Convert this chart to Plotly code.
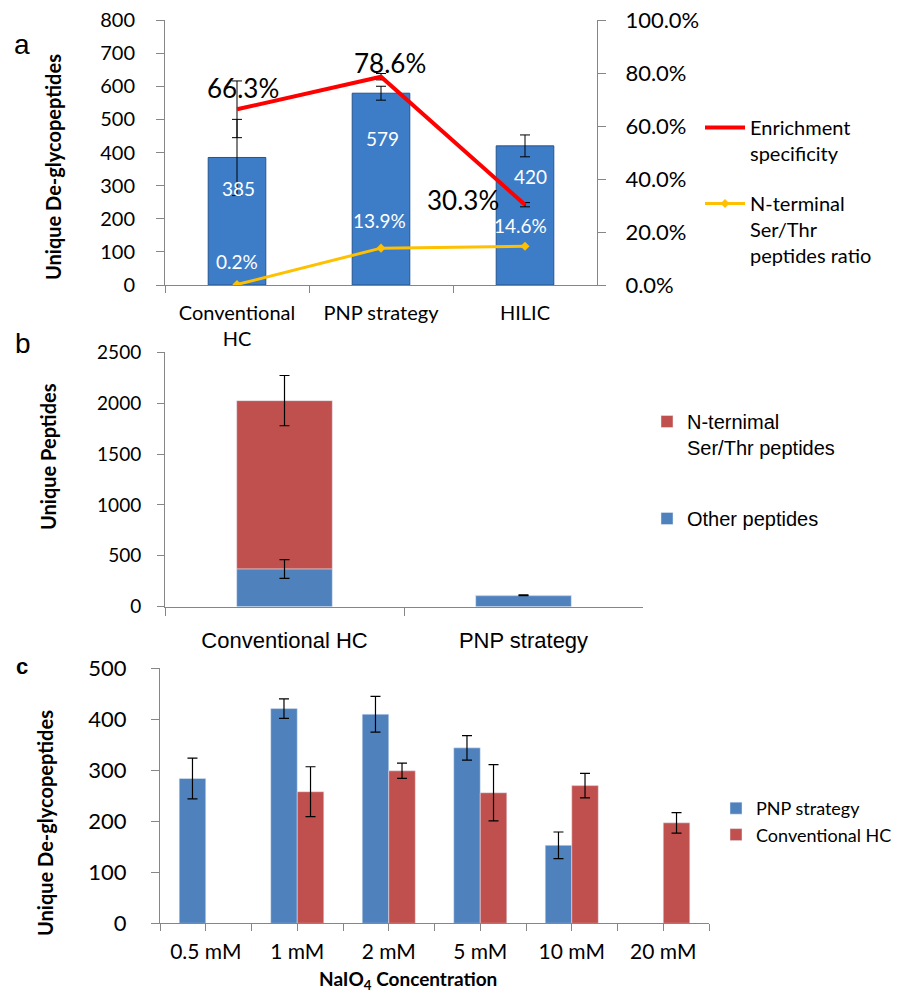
import plotly.graph_objects as go

# ---------------- data ----------------
# Panel a
methods_a = ["Conventional<br>HC", "PNP strategy", "HILIC"]
deglyco_a = [385, 579, 420]
deglyco_a_err = [115, 21, 33]
enrich_a = [0.663, 0.786, 0.303]
enrich_a_err = [0.107, 0.012, 0.008]
nterm_ratio_a = [0.002, 0.139, 0.146]

# Panel b
methods_b = ["Conventional HC", "PNP strategy"]
other_b = [370, 108]
other_b_err = [92, 0]
nterm_b = [1655, 4]
total_b_err = [247, 5]

# Panel c
conc_c = ["0.5 mM", "1 mM", "2 mM", "5 mM", "10 mM", "20 mM"]
pnp_c = [284, 421, 410, 344, 153, None]
pnp_c_err = [40, 19, 35, 24, 26, 0]
hc_c = [None, 258, 299, 256, 270, 197]
hc_c_err = [0, 49, 15, 55, 24, 20]

# ---------------- layout helpers ----------------
W, H = 907, 993
def fx(p):
    return p / W
def fy(p):
    return 1 - p / H

CAL = "Lato, 'Open Sans', sans-serif"
ARI = "'Liberation Sans', Arial, sans-serif"
AX = "#868686"
BLUE = "#4F81BD"
RED = "#C0504D"

fig = go.Figure()

# ---- panel a ----
fig.add_trace(go.Bar(
    x=methods_a, y=deglyco_a, width=0.4,
    marker=dict(color="#3D7CC6", line=dict(color="#24548F", width=1)),
    error_y=dict(type="data", array=deglyco_a_err, color="black", thickness=1, width=5),
    xaxis="x", yaxis="y", showlegend=False, hoverinfo="y"))
fig.add_trace(go.Scatter(
    x=methods_a, y=enrich_a, mode="lines", name="Enrichment<br>specificity",
    line=dict(color="#FF0000", width=4),
    error_y=dict(type="data", array=enrich_a_err, color="black", thickness=1, width=5),
    xaxis="x", yaxis="y2", legend="legend"))
fig.add_trace(go.Scatter(
    x=methods_a, y=nterm_ratio_a, mode="lines+markers",
    name="N-terminal<br>Ser/Thr<br>peptides ratio",
    line=dict(color="#FFC000", width=3),
    marker=dict(symbol="diamond", size=7, color="#FFC000"),
    xaxis="x", yaxis="y2", legend="legend2"))

# ---- panel b ----
fig.add_trace(go.Bar(
    x=methods_b, y=nterm_b, base=other_b, width=0.4, offsetgroup="b",
    name="N-ternimal<br>Ser/Thr peptides",
    marker=dict(color=RED),
    error_y=dict(type="data", array=total_b_err, color="black", thickness=1.2, width=5),
    xaxis="x2", yaxis="y3", legend="legend3"))
fig.add_trace(go.Bar(
    x=methods_b, y=other_b, width=0.4, offsetgroup="b", name="Other peptides",
    marker=dict(color=BLUE),
    error_y=dict(type="data", array=other_b_err, color="black", thickness=1.2, width=5),
    xaxis="x2", yaxis="y3", legend="legend4"))

# ---- panel c ----
xc = list(range(len(conc_c)))
fig.add_trace(go.Bar(
    x=xc, y=pnp_c, name="PNP strategy", marker=dict(color=BLUE),
    error_y=dict(type="data", array=pnp_c_err, color="black", thickness=1.2, width=5),
    xaxis="x3", yaxis="y4", legend="legend5"))
fig.add_trace(go.Bar(
    x=xc, y=hc_c, name="Conventional HC", marker=dict(color=RED),
    error_y=dict(type="data", array=hc_c_err, color="black", thickness=1.2, width=5),
    xaxis="x3", yaxis="y4", legend="legend5"))

axis_common = dict(showline=True, linecolor=AX, linewidth=1, ticks="outside",
                   tickcolor=AX, showgrid=False, zeroline=False, automargin=False)

fig.update_layout(
    width=W, height=H, margin=dict(l=0, r=0, t=0, b=0, autoexpand=False),
    paper_bgcolor="white", plot_bgcolor="rgba(0,0,0,0)",
    barmode="group", bargap=0.42, bargroupgap=0,
    font=dict(family=CAL, color="black"),
    # panel a
    xaxis=dict(domain=[fx(165), fx(597)], anchor="y", type="category",
               tickson="boundaries", ticklen=7, range=[-0.5, 2.5],
               tickfont=dict(size=20, family=CAL), ticklabelstandoff=10, **axis_common),
    yaxis=dict(domain=[fy(285), fy(20)], anchor="x", range=[0, 800], dtick=100,
               ticklen=8, tickfont=dict(size=20, family=CAL), ticklabelstandoff=17,
               **axis_common),
    yaxis2=dict(overlaying="y", anchor="x", side="right", range=[0, 1], dtick=0.2,
                tickformat=".1%", ticklen=8, tickfont=dict(size=22, family=CAL),
                ticklabelstandoff=15, **axis_common),
    # panel b
    xaxis2=dict(domain=[fx(165), fx(643)], anchor="y3", type="category",
                tickson="boundaries", ticklen=8, range=[-0.5, 1.5],
                tickfont=dict(size=22, family=ARI), ticklabelstandoff=14, **axis_common),
    yaxis3=dict(domain=[fy(606.7), fy(352.3)], anchor="x2", range=[0, 2500], dtick=500,
                ticklen=7, tickfont=dict(size=19, family=CAL), ticklabelstandoff=12,
                **axis_common),
    # panel c
    xaxis3=dict(domain=[fx(160), fx(709)], anchor="y4", range=[-0.5, 5.5],
                tickmode="array", tickvals=xc, ticktext=conc_c, ticklen=7,
                minor=dict(tickmode="array", tickvals=[i - 0.5 for i in range(len(conc_c) + 1)],
                           ticks="outside", ticklen=7, tickcolor=AX),
                tickfont=dict(size=21, family=CAL), ticklabelstandoff=2, **axis_common),
    yaxis4=dict(domain=[fy(923.3), fy(668.3)], anchor="x3", range=[0, 500], dtick=100,
                ticklen=8, tickfont=dict(size=22, family=CAL), ticklabelstandoff=20,
                **axis_common),
    legend=dict(x=fx(700), y=fy(108), xanchor="left", yanchor="top", valign="top",
                font=dict(size=20, family=CAL), itemwidth=40, bgcolor="rgba(0,0,0,0)"),
    legend2=dict(x=fx(700), y=fy(184), xanchor="left", yanchor="top", valign="top",
                 font=dict(size=20, family=CAL), itemwidth=40, bgcolor="rgba(0,0,0,0)"),
    legend3=dict(x=fx(647), y=fy(402), xanchor="left", yanchor="top", valign="top",
                 font=dict(size=20, family=ARI), itemwidth=30, bgcolor="rgba(0,0,0,0)"),
    legend4=dict(x=fx(647), y=fy(499), xanchor="left", yanchor="top", valign="top",
                 font=dict(size=20, family=ARI), itemwidth=30, bgcolor="rgba(0,0,0,0)"),
    legend5=dict(x=fx(716), y=fy(790), xanchor="left", yanchor="top",
                 font=dict(size=18, family=CAL), itemwidth=30, bgcolor="rgba(0,0,0,0)",
                 tracegroupgap=0),
)

ann = []
# data labels panel a
enrich_label_pos = [(0.04, 0.743), (1.06, 0.838), (1.57, 0.321)]
for v, (xp, yp) in zip(enrich_a, enrich_label_pos):
    ann.append(dict(x=xp, y=yp, xref="x", yref="y2", text=f"{v*100:.1f}%",
                    showarrow=False, font=dict(size=26, family=CAL, color="black")))
count_label_pos = [(0.01, 290), (1.01, 441), (2.04, 329)]
for v, (xp, yp) in zip(deglyco_a, count_label_pos):
    ann.append(dict(x=xp, y=yp, xref="x", yref="y", text=f"{v}",
                    showarrow=False, font=dict(size=19, family=CAL, color="white")))
ratio_label_pos = [(0.0, 0.087), (0.99, 0.242), (1.97, 0.223)]
for v, (xp, yp) in zip(nterm_ratio_a, ratio_label_pos):
    ann.append(dict(x=xp, y=yp, xref="x", yref="y2", text=f"{v*100:.1f}%",
                    showarrow=False, font=dict(size=19, family=CAL, color="white")))

# axis titles
def ptext(text, x, y, size, family=CAL, bold=False, angle=0):
    t = f"<b>{text}</b>" if bold else text
    return dict(x=fx(x), y=fy(y), xref="paper", yref="paper", text=t, showarrow=False,
                textangle=angle, xanchor="center", yanchor="middle",
                font=dict(size=size, family=family, color="black"))

ann.append(ptext("Unique De-glycopeptides", 53, 167, 20, bold=True, angle=-90))
ann.append(ptext("Unique Peptides", 48, 457, 20, bold=True, angle=-90))
ann.append(ptext("Unique De-glycopeptides", 45, 823, 20, bold=True, angle=-90))
ann.append(ptext("NaIO<sub>4</sub> Concentration", 408, 980, 19, bold=True))
# panel letters
ann.append(ptext("a", 22, 45, 28, family=ARI))
ann.append(ptext("b", 23, 343, 28, family=ARI))
ann.append(ptext("<b>c</b>", 22, 666, 22, family=ARI))

fig.update_layout(annotations=ann)
fig.write_html("out.html", config={"displayModeBar": False},
               post_script="document.body.style.margin='0';document.body.style.overflow='hidden';")
